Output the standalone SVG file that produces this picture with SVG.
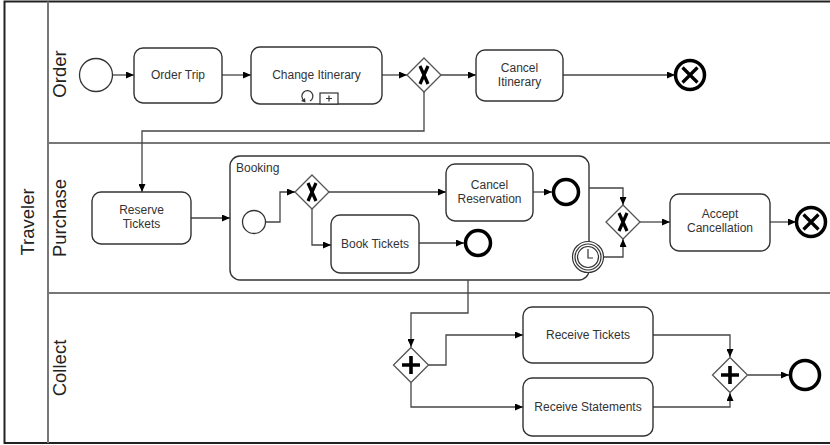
<svg xmlns="http://www.w3.org/2000/svg" width="830" height="445" viewBox="0 0 830 445">
  <style>
    .pool { fill: #fff; stroke: #222; stroke-width: 2; }
    .lane { fill: none; stroke: #777; stroke-width: 2; }
    .lbl { font-family: "Liberation Sans", Arial, sans-serif; font-size: 18.5px; fill: #222; text-anchor: middle; }
    .task { fill: #fff; stroke: #333; stroke-width: 1.4; }
    .ttext { font-family: "Liberation Sans", Arial, sans-serif; font-size: 12px; fill: #333; text-anchor: middle; }
    .sub { fill: #fff; stroke: #333; stroke-width: 1.4; }
    .flow { fill: none; stroke: #444; stroke-width: 1.3; marker-end: url(#arrow); }
    .line { fill: none; stroke: #444; stroke-width: 1.3; }
    .start { fill: #fff; stroke: #333; stroke-width: 1.3; }
    .end { fill: #fff; stroke: #000; stroke-width: 3.5; }
    .gw { fill: #fff; stroke: #555; stroke-width: 1.3; }
    .mark { stroke: #000; stroke-width: 3.6; fill: none; }
    .xmark { stroke: #000; stroke-width: 3.2; fill: none; stroke-linecap: butt; }
  </style>
  <defs>
    <marker id="arrow" viewBox="0 0 8 7" refX="8" refY="3.5" markerWidth="8" markerHeight="7" markerUnits="userSpaceOnUse" orient="auto">
      <path d="M0,0 L8,3.5 L0,7 z" fill="#000"/>
    </marker>
    <g id="xgw">
      <polygon class="gw" points="0,-17 17,0 0,17 -17,0"/>
      <path class="xmark" d="M-4,-9 L4,9 M4,-9 L-4,9"/>
    </g>
    <g id="pgw">
      <polygon class="gw" points="0,-17.5 17.5,0 0,17.5 -17.5,0"/>
      <path class="mark" d="M0,-9 V9 M-9,0 H9"/>
    </g>
    <g id="cancelEnd">
      <circle class="end" r="14.5"/>
      <path d="M-7.5,-7.5 L7.5,7.5 M7.5,-7.5 L-7.5,7.5" stroke="#000" stroke-width="3.2"/>
    </g>
  </defs>

  <rect width="830" height="445" fill="#fff"/>

  <!-- pool and lanes -->
  <g id="pool">
    <rect class="pool" x="4.5" y="1.5" width="840" height="441.5"/>
    <path class="lane" d="M48,1.5 V443 M48,143 H840 M48,293 H840"/>
    <text class="lbl" transform="translate(34,222) rotate(-90)">Traveler</text>
    <text class="lbl" transform="translate(66,74) rotate(-90)">Order</text>
    <text class="lbl" transform="translate(66,218) rotate(-90)">Purchase</text>
    <text class="lbl" transform="translate(66,368) rotate(-90)">Collect</text>
  </g>

  <!-- Booking sub-process (drawn first so inner nodes sit on top) -->
  <g id="booking">
    <rect class="sub" x="230" y="156" width="359" height="124" rx="10"/>
    <text x="236" y="172" font-family="Liberation Sans, Arial, sans-serif" font-size="12" fill="#333">Booking</text>
  </g>

  <!-- connectors -->
  <g id="connectors">
    <path class="flow" d="M112,75 H134"/>
    <path class="flow" d="M222,75 H251"/>
    <path class="flow" d="M382,75 H407"/>
    <path class="flow" d="M441,75 H476"/>
    <path class="flow" d="M563,75 H675"/>
    <path class="flow" d="M424,92 V131 H142 V192"/>
    <path class="flow" d="M191,218 H230"/>
    <path class="flow" d="M265,222 H280 V192 H295"/>
    <path class="flow" d="M329,192 H446"/>
    <path class="flow" d="M312,209 V245 H331"/>
    <path class="flow" d="M533,192 H552"/>
    <path class="flow" d="M419,243 H464"/>
    <path class="flow" d="M589,188 H623 V205"/>
    <path class="flow" d="M603,257 H623 V239"/>
    <path class="flow" d="M640,222 H670"/>
    <path class="flow" d="M770,222 H796"/>
    <path class="flow" d="M468,280 V313 H411 V347"/>
    <path class="flow" d="M428,365 H446 V335 H523"/>
    <path class="flow" d="M411,383 V407 H523"/>
    <path class="flow" d="M653,335 H730 V357"/>
    <path class="flow" d="M653,407 H730 V393"/>
    <path class="flow" d="M748,375 H789"/>
  </g>

  <!-- Order lane -->
  <g id="start-order"><circle class="start" cx="96" cy="75" r="16.5"/></g>
  <g id="order-trip">
    <rect class="task" x="134" y="48" width="88" height="55" rx="9"/>
    <text class="ttext" x="178" y="79">Order Trip</text>
  </g>
  <g id="change-itinerary">
    <rect class="task" x="251" y="47" width="131" height="57" rx="9"/>
    <text class="ttext" x="316.5" y="79">Change Itinerary</text>
    <path d="M304,100.5 A5.5,5.5 0 1 1 310,101" fill="none" stroke="#333" stroke-width="1.2"/>
    <path d="M301,101 L305,98 L305.5,102.5 z" fill="#333"/>
    <rect x="320" y="93" width="18" height="11" fill="#fff" stroke="#333" stroke-width="1.2"/>
    <path d="M329,95.5 V101.5 M326,98.5 H332" stroke="#333" stroke-width="1.2"/>
  </g>
  <g id="gw-order"><use href="#xgw" x="424" y="75"/></g>
  <g id="cancel-itinerary">
    <rect class="task" x="476" y="50" width="87" height="51" rx="9"/>
    <text class="ttext" x="519.5" y="72">Cancel</text>
    <text class="ttext" x="519.5" y="86">Itinerary</text>
  </g>
  <g id="end-order"><use href="#cancelEnd" x="690" y="75"/></g>

  <!-- Purchase lane -->
  <g id="reserve-tickets">
    <rect class="task" x="92" y="192" width="99" height="52" rx="9"/>
    <text class="ttext" x="141.5" y="214">Reserve</text>
    <text class="ttext" x="141.5" y="228">Tickets</text>
  </g>
  <g id="start-booking"><circle class="start" cx="254" cy="222" r="11.5"/></g>
  <g id="gw-booking"><use href="#xgw" x="312" y="192"/></g>
  <g id="cancel-reservation">
    <rect class="task" x="446" y="164" width="87" height="57" rx="9"/>
    <text class="ttext" x="489.5" y="189">Cancel</text>
    <text class="ttext" x="489.5" y="203">Reservation</text>
  </g>
  <g id="end-reservation"><circle class="end" cx="566" cy="192" r="12.5"/></g>
  <g id="book-tickets">
    <rect class="task" x="331" y="215" width="88" height="58" rx="9"/>
    <text class="ttext" x="375" y="248">Book Tickets</text>
  </g>
  <g id="end-book"><circle class="end" cx="478" cy="243" r="12.5"/></g>
  <g id="timer">
    <circle cx="588" cy="257" r="15.5" fill="#fff" stroke="#333" stroke-width="1.2"/>
    <circle cx="588" cy="257" r="13" fill="none" stroke="#333" stroke-width="1.2"/>
    <circle cx="588" cy="257" r="10.5" fill="#fff" stroke="#333" stroke-width="1.2"/>
    <path d="M588,249 V258 H593" fill="none" stroke="#333" stroke-width="1.2"/>
  </g>
  <g id="gw-cancel"><use href="#xgw" x="623" y="222"/></g>
  <g id="accept-cancellation">
    <rect class="task" x="670" y="194" width="100" height="57" rx="9"/>
    <text class="ttext" x="720" y="218">Accept</text>
    <text class="ttext" x="720" y="232">Cancellation</text>
  </g>
  <g id="end-purchase"><use href="#cancelEnd" x="811" y="222"/></g>

  <!-- Collect lane -->
  <g id="fork"><use href="#pgw" x="411" y="365"/></g>
  <g id="receive-tickets">
    <rect class="task" x="523" y="307" width="130" height="56" rx="9"/>
    <text class="ttext" x="588" y="339">Receive Tickets</text>
  </g>
  <g id="receive-statements">
    <rect class="task" x="523" y="378" width="130" height="58" rx="9"/>
    <text class="ttext" x="588" y="411">Receive Statements</text>
  </g>
  <g id="join"><use href="#pgw" x="730" y="375"/></g>
  <g id="end-collect"><circle class="end" cx="805" cy="375" r="14.5"/></g>
</svg>
